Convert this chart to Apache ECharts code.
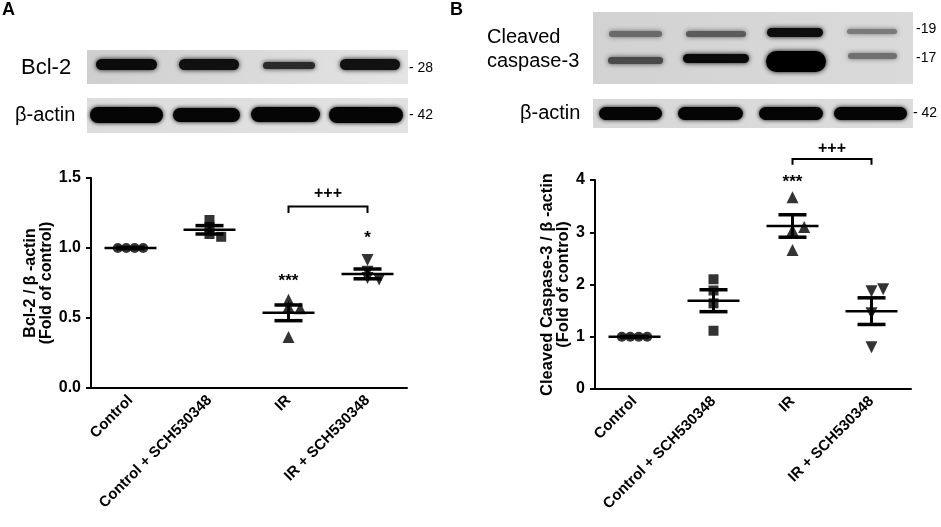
<!DOCTYPE html>
<html><head><meta charset="utf-8">
<script src="https://cdn.jsdelivr.net/npm/echarts@6/dist/echarts.min.js"></script>
<style>html,body{margin:0;padding:0;background:#fff}#c{width:941px;height:527px}</style>
</head><body><div id="c"></div>
<script>
// ---------- data ----------
const categories = ['Control', 'Control + SCH530348', 'IR', 'IR + SCH530348'];

// Panel A: Bcl-2 / beta-actin (fold of control)
const aControl = [1.0, 1.0, 1.0, 1.0];
const aCtrlSch = [1.20, 1.15, 1.10, 1.08];
const aIR      = [0.58, 0.57, 0.63, 0.365];
const aIRSch   = [0.915, 0.83, 0.785, 0.775];
const aMean    = [1.0, 1.13, 0.537, 0.815];
const aSem     = [0.004, 0.03, 0.056, 0.035];
const aYTicks  = [0, 0.5, 1.0, 1.5];
const aStars   = [[2, 0.765, '***'], [3, 1.07, '*']];
const aBracket = [2, 3, 1.297, 1.25, '+++', 1.39];

// Panel B: Cleaved caspase-3 / beta-actin (fold of control)
const bControl = [1.0, 1.0, 1.0, 1.0];
const bCtrlSch = [2.10, 1.885, 1.64, 1.115];
const bIR      = [3.67, 3.04, 3.10, 2.66];
const bIRSch   = [1.87, 1.91, 1.45, 0.80];
const bMean    = [1.0, 1.69, 3.12, 1.49];
const bSem     = [0.006, 0.21, 0.215, 0.255];
const bYTicks  = [0, 1, 2, 3, 4];
const bStars   = [[2, 3.95, '***']];
const bBracket = [2, 3, 4.40, 4.29, '+++', 4.61];

// ---------- helpers ----------
const FONT = 'Arial, "Liberation Sans", sans-serif';
function swarm(vals, pxPerUnit) {
  const step = 6.5, d = 6, placed = [];
  const offs = vals.map(v => {
    const y = v * pxPerUnit;
    const cands = [0];
    for (let k = 1; k < 10; k++) { cands.push(k * step, -k * step); }
    for (const dx of cands) {
      if (placed.every(p => Math.hypot(p[0] - dx, p[1] - y) >= d)) { placed.push([dx, y]); return dx; }
    }
    return 0;
  });
  if (offs.filter(o => o !== 0).length >= 3) {
    const mid = (Math.min(...offs) + Math.max(...offs)) / 2;
    return offs.map(o => (o - mid) * 1.3);
  }
  return offs.map(o => o * 1.8);
}
function scatterSeries(gi, vals, idx, sym, rot, ppu) {
  const offs = swarm(vals, ppu);
  return {
    type: 'scatter', xAxisIndex: gi, yAxisIndex: gi, symbol: sym, symbolSize: sym === 'triangle' ? 12 : 10,
    symbolRotate: rot, itemStyle: { color: '#000' }, z: 3, silent: true,
    data: vals.map((v, k) => ({ value: [idx, v], symbolOffset: [offs[k], 0] }))
  };
}
function meanSeries(gi, means, sems) {
  return {
    type: 'custom', xAxisIndex: gi, yAxisIndex: gi, z: 4, silent: true,
    data: means.map((m, i) => [i, m, sems[i]]),
    renderItem: (p, api) => {
      const i = api.value(0), m = api.value(1), s = api.value(2);
      const c = api.coord([i, m]), hi = api.coord([i, m + s]), lo = api.coord([i, m - s]);
      const st = w => ({ stroke: '#000', lineWidth: w });
      return { type: 'group', children: [
        { type: 'line', shape: { x1: c[0] - 26, y1: c[1], x2: c[0] + 26, y2: c[1] }, style: st(2.5) },
        { type: 'line', shape: { x1: c[0], y1: hi[1], x2: c[0], y2: lo[1] }, style: st(3) },
        { type: 'line', shape: { x1: c[0] - 14, y1: hi[1], x2: c[0] + 14, y2: hi[1] }, style: st(3.5) },
        { type: 'line', shape: { x1: c[0] - 14, y1: lo[1], x2: c[0] + 14, y2: lo[1] }, style: st(3.5) }
      ]};
    }
  };
}
function annotSeries(gi, stars, br) {
  return {
    type: 'custom', xAxisIndex: gi, yAxisIndex: gi, z: 5, silent: true, clip: false,
    data: [[0, 0]],
    renderItem: (p, api) => {
      const ch = [];
      stars.forEach(s => {
        const c = api.coord([s[0], s[1]]);
        ch.push({ type: 'text', style: { text: s[2], x: c[0], y: c[1], align: 'center', verticalAlign: 'middle',
          fontSize: 17, fontWeight: 'bold', fontFamily: FONT, fill: '#000' } });
      });
      const p1 = api.coord([br[0], br[3]]), p2 = api.coord([br[0], br[2]]),
            p3 = api.coord([br[1], br[2]]), p4 = api.coord([br[1], br[3]]), t = api.coord([(br[0] + br[1]) / 2, br[5]]);
      ch.push({ type: 'polyline', shape: { points: [p1, p2, p3, p4] }, style: { stroke: '#000', lineWidth: 2, fill: null } });
      ch.push({ type: 'text', style: { text: br[4], x: (p2[0] + p3[0]) / 2, y: t[1], align: 'center', verticalAlign: 'middle',
        fontSize: 16, fontWeight: 'bold', fontFamily: FONT, fill: '#000' } });
      return { type: 'group', children: ch };
    }
  };
}
function xAx(gi) {
  return {
    type: 'category', gridIndex: gi, data: categories, boundaryGap: true,
    axisLine: { lineStyle: { color: '#000', width: 2 } },
    axisTick: { alignWithLabel: true, length: 6, lineStyle: { color: '#000', width: 2 } },
    axisLabel: { rotate: 45, margin: 10, color: '#000', fontSize: 15, fontWeight: 'bold', fontFamily: FONT, interval: 0 },
    splitLine: { show: false }
  };
}
function yAx(gi, ticks, name, gap, dec, nsize) {
  const mx = ticks[ticks.length - 1];
  return {
    type: 'value', gridIndex: gi, min: ticks[0], max: mx, interval: ticks[1] - ticks[0],
    name: name, nameLocation: 'middle', nameGap: gap, nameRotate: 90,
    nameTextStyle: { color: '#000', fontSize: nsize, fontWeight: 'bold', fontFamily: FONT, lineHeight: 16 },
    axisLine: { show: true, lineStyle: { color: '#000', width: 2 } },
    axisTick: { show: true, length: 5, lineStyle: { color: '#000', width: 2 } },
    axisLabel: { margin: 10, color: '#000', fontSize: 16, fontWeight: 'bold', fontFamily: FONT,
      formatter: v => v.toFixed(dec) },
    splitLine: { show: false }
  };
}

// ---------- western blot illustration (decorative) ----------
function bg(x, y, w, h, c1, c2) {
  return { type: 'rect', shape: { x, y, width: w, height: h }, silent: true,
    style: { fill: { type: 'linear', x: 0, y: 0, x2: 1, y2: 0, colorStops: [{ offset: 0, color: c1 }, { offset: 1, color: c2 }] } } };
}
function band(x1, y1, x2, y2, color, blur) {
  const h = y2 - y1;
  return { type: 'rect', shape: { x: x1, y: y1, width: x2 - x1, height: h, r: h / 2 }, silent: true,
    style: { fill: color, shadowBlur: blur, shadowColor: color } };
}
function txt(t, x, y, size, bold, align) {
  return { type: 'text', silent: true, style: { text: t, x, y, fontSize: size, fontWeight: bold ? 'bold' : 'normal',
    fontFamily: FONT, fill: '#000', align: align || 'left', verticalAlign: 'middle' } };
}
const graphics = [
  txt('A', 2, 10, 18, true), txt('B', 450, 10, 18, true),
  // panel A blots
  bg(87, 50, 321, 34, '#cfcfcf', '#e4e4e4'),
  band(96, 59, 157, 70, '#0b0b0b', 5), band(179, 59, 239, 70, '#101010', 5),
  band(263, 62, 315, 69, '#2a2a2a', 5), band(340, 59, 400, 70, '#111', 5),
  bg(87, 98, 321, 35, '#dcdcdc', '#e2e2e2'),
  band(90, 107, 163, 123, '#050505', 4), band(173, 108, 240, 122, '#060606', 4),
  band(251, 107, 320, 122, '#050505', 4), band(329, 107, 403, 123, '#050505', 4),
  txt('Bcl-2', 21, 68, 22, false), txt('β-actin', 15, 115, 20, false),
  txt('- 28', 409, 68, 14, false), txt('- 42', 409, 115, 14, false),
  // panel B blots
  bg(593, 12, 320, 72, '#d2d2d2', '#dadada'),
  band(609, 31, 662, 37, '#6a6a6a', 5), band(686, 31, 746, 37, '#5a5a5a', 5),
  band(767, 28, 823, 37, '#0d0d0d', 5), band(847, 29, 897, 34, '#7a7a7a', 5),
  band(608, 57, 663, 64, '#4a4a4a', 5), band(683, 54, 749, 63, '#0a0a0a', 5),
  band(766, 51, 826, 72, '#000', 5), band(848, 53, 897, 59, '#707070', 5),
  bg(593, 99, 320, 29, '#d8d8d8', '#dcdcdc'),
  band(599, 107, 662, 120, '#050505', 4), band(678, 107, 743, 120, '#050505', 4),
  band(759, 107, 823, 120, '#050505', 4), band(834, 107, 907, 120, '#050505', 4),
  txt('Cleaved', 487, 37, 20, false), txt('caspase-3', 487, 61, 20, false),
  txt('β-actin', 520, 113, 20, false),
  txt('-19', 916, 29, 14, false), txt('-17', 916, 58, 14, false), txt('- 42', 913, 113, 14, false)
];

// ---------- chart ----------
const chart = echarts.init(document.getElementById('c'));
const ppuA = 210 / 1.5, ppuB = 209 / 4;
chart.setOption({
  animation: false,
  backgroundColor: '#fff',
  grid: [
    { left: 91, top: 178, width: 316, height: 210 },
    { left: 595, top: 180, width: 316, height: 209 }
  ],
  xAxis: [xAx(0), xAx(1)],
  yAxis: [
    yAx(0, aYTicks, 'Bcl-2 / β -actin\n(Fold of control)', 32, 1, 16),
    yAx(1, bYTicks, 'Cleaved Caspase-3 / β -actin\n(Fold of control)', 22, 0, 16.5)
  ],
  series: [
    scatterSeries(0, aControl, 0, 'circle', 0, ppuA),
    scatterSeries(0, aCtrlSch, 1, 'rect', 0, ppuA),
    scatterSeries(0, aIR, 2, 'triangle', 0, ppuA),
    scatterSeries(0, aIRSch, 3, 'triangle', 180, ppuA),
    meanSeries(0, aMean, aSem),
    annotSeries(0, aStars, aBracket),
    scatterSeries(1, bControl, 0, 'circle', 0, ppuB),
    scatterSeries(1, bCtrlSch, 1, 'rect', 0, ppuB),
    scatterSeries(1, bIR, 2, 'triangle', 0, ppuB),
    scatterSeries(1, bIRSch, 3, 'triangle', 180, ppuB),
    meanSeries(1, bMean, bSem),
    annotSeries(1, bStars, bBracket)
  ],
  graphic: graphics
});
</script></body></html>
